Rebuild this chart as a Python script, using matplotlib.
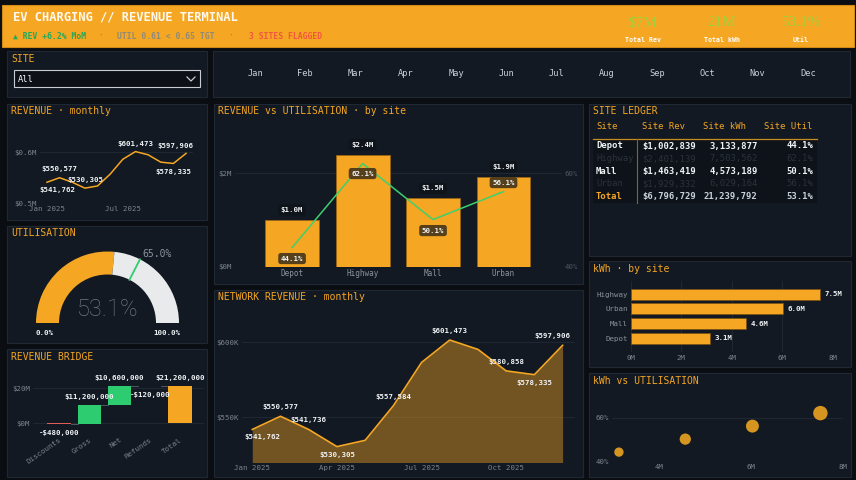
import matplotlib
matplotlib.use('Agg')
import matplotlib.pyplot as plt
from matplotlib.patches import Rectangle, Wedge
from matplotlib.lines import Line2D
import numpy as np

# ---------------- data ----------------
months = ['Jan', 'Feb', 'Mar', 'Apr', 'May', 'Jun', 'Jul', 'Aug', 'Sep', 'Oct', 'Nov', 'Dec']
month_ticks = ['Jan 2025', 'Apr 2025', 'Jul 2025', 'Oct 2025']
monthly_rev = [541762, 550577, 541736, 530305, 534500, 557584, 586500, 601473, 595200, 580858, 578335, 597906]

sites = ['Depot', 'Highway', 'Mall', 'Urban']
site_rev = [1002839, 2401139, 1463419, 1929332]
site_kwh = [3133877, 7503562, 4573189, 6029164]
site_util = [44.1, 62.1, 50.1, 56.1]
highlighted_sites = ['Depot', 'Mall']

total_rev = 6796729
total_kwh = 21239792
total_util = 53.1
util_target = 65.0

bridge_steps = ['Discounts', 'Gross', 'Net', 'Refunds', 'Total']
bridge_values = [-480000, 11200000, 10600000, -120000, 21200000]

kpi_values = ['$7M', '21M', '53.1%']
kpi_labels = ['Total Rev', 'Total kWh', 'Util']

# ---------------- style ----------------
W, H = 856, 480
MONO = ['DejaVu Sans Mono', 'DejaVu Sans']
plt.rcParams['font.family'] = MONO
BG = '#0a0d12'
PANEL = '#121922'
EDGE = '#1f2833'
ORANGE = '#f5a623'
GREEN = '#2ecc71'
RED = '#e05d56'
TICK = '#7d8590'
GRID = '#222b36'
WHITE = '#f0f3f6'

fig = plt.figure(figsize=(W / 100, H / 100), dpi=100)
fig.patch.set_facecolor(BG)


def rect(x0, y0, x1, y1):
    return [x0 / W, 1 - y1 / H, (x1 - x0) / W, (y1 - y0) / H]


def ftext(x, y, s, **kw):
    kw.setdefault('va', 'center')
    return fig.text(x / W, 1 - y / H, s, **kw)


def panel(x0, y0, x1, y1, title=None):
    fig.patches.append(Rectangle((x0 / W, 1 - y1 / H), (x1 - x0) / W, (y1 - y0) / H,
                                 transform=fig.transFigure, facecolor=PANEL,
                                 edgecolor=EDGE, lw=0.8, zorder=-5))
    if title:
        ftext(x0 + 4, y0 + 7.5, title, color=ORANGE, fontsize=7, ha='left')


def style_ax(ax, fs=5.3):
    ax.set_facecolor('none')
    for s in ax.spines.values():
        s.set_visible(False)
    ax.tick_params(colors=TICK, labelsize=fs, length=0, pad=2)


# ---------------- header ----------------
fig.patches.append(Rectangle((2 / W, 1 - 47 / H), 852 / W, 42 / H, transform=fig.transFigure,
                             facecolor=ORANGE, edgecolor='#d18a16', lw=0.8, zorder=-5))
ftext(13, 17, 'EV CHARGING // REVENUE TERMINAL', color='#fffaf0', fontsize=8.7,
      fontweight='bold', ha='left')
ftext(13, 36.5, '\u25b2 REV +6.2% MoM', color='#22a85a', fontsize=5.8, fontweight='bold', ha='left')
ftext(101, 36.5, '\u00b7', color='#a08050', fontsize=5.8, fontweight='bold', ha='center')
ftext(117, 36.5, 'UTIL 0.61 < 0.65 TGT', color='#8f8a78', fontsize=5.8, fontweight='bold', ha='left')
ftext(231, 36.5, '\u00b7', color='#a08050', fontsize=5.8, fontweight='bold', ha='center')
ftext(249, 36.5, '3 SITES FLAGGED', color='#f2553e', fontsize=5.8, fontweight='bold', ha='left')
for i, (v, l) in enumerate(zip(kpi_values, kpi_labels)):
    cx = 643 + i * 79
    ftext(cx, 23, v, color='#a6cf3c', fontsize=11, family=['Liberation Serif', 'DejaVu Serif'],
          ha='center')
    ftext(cx, 40, l, color='#ffffff', fontsize=4.8, fontweight='bold', ha='center')

# ---------------- SITE selector ----------------
panel(7, 51, 207, 97, 'SITE')
fig.patches.append(Rectangle((14 / W, 1 - 87 / H), 186 / W, 17 / H, transform=fig.transFigure,
                             facecolor='#0d1117', edgecolor='#c9cdd3', lw=0.8, zorder=-4))
ftext(18, 79, 'All', color=WHITE, fontsize=6.3, ha='left')
fig.lines.append(Line2D([187 / W, 191 / W, 195 / W], [1 - 77 / H, 1 - 81 / H, 1 - 77 / H],
                        transform=fig.transFigure, color='#c9cdd3', lw=0.9))

# ---------------- month strip ----------------
panel(213, 51, 850, 97)
axm = fig.add_axes(rect(213, 51, 850, 97))
axm.set_xlim(-0.835, 11.835)
axm.set_ylim(0, 1)
axm.axis('off')
for i, m in enumerate(months):
    axm.text(i, 0.5, m, color='#c9d1d9', fontsize=6.2, ha='center', va='center')

# ---------------- REVENUE monthly (small) ----------------
panel(7, 104, 207, 220, 'REVENUE \u00b7 monthly')
axr = fig.add_axes(rect(40, 133, 193, 203.7))
style_ax(axr)
xm = np.arange(len(months))
axr.plot(xm, monthly_rev, color=ORANGE, lw=1.1)
axr.margins(x=0.05)
axr.set_ylim(500000, 637600)
axr.set_yticks([500000, 600000])
axr.set_yticklabels(['$0.5M', '$0.6M'])
axr.set_xticks([0, 6])
axr.set_xticklabels([month_ticks[0], month_ticks[2]])
axr.grid(axis='y', color=GRID, lw=0.6)
axr.set_axisbelow(True)
small_labels = {0: (10.8, -8), 1: (0, 8.5), 3: (0, 8.5), 7: (0, 7.5), 10: (0, -9), 11: (-10.6, 7.5)}
for i, (dx, dy) in small_labels.items():
    axr.annotate(f'${monthly_rev[i]:,.0f}', (i, monthly_rev[i]), xytext=(dx * 0.72, dy * 0.72),
                 textcoords='offset points', ha='center', va='center', color=WHITE,
                 fontsize=5.3, fontweight='bold')

# ---------------- UTILISATION gauge ----------------
panel(7, 226, 207, 343, 'UTILISATION')
axg = fig.add_axes(rect(7, 226, 207, 343))
axg.set_xlim(7, 207)
axg.set_ylim(H - 343, H - 226)
axg.axis('off')
cx, cy, R, wr = 107.5, H - 323, 71.5, 23
split = 180 * (1 - total_util / 100)
axg.add_patch(Wedge((cx, cy), R, split, 180, width=wr, facecolor=ORANGE, edgecolor='none'))
axg.add_patch(Wedge((cx, cy), R, 0, split, width=wr, facecolor='#e9eaeb', edgecolor='none'))
ang = np.radians(180 * (1 - util_target / 100))
axg.plot([cx + (R - wr) * np.cos(ang), cx + R * np.cos(ang)],
         [cy + (R - wr) * np.sin(ang), cy + R * np.sin(ang)], color=GREEN, lw=1.3)
axg.text(cx + R * np.cos(ang) + 2, cy + R * np.sin(ang) + 5, f'{util_target:.1f}%',
         color='#8b949e', fontsize=7, ha='left', va='center')
axg.text(cx, H - 310, f'{total_util:.1f}%', color='#6e7681', fontsize=17,
         family=['Roboto', 'DejaVu Sans'], fontweight='light', ha='center', va='center')
axg.text(cx - (R - wr / 2) - 2.5, H - 333, '0.0%', color=WHITE, fontsize=5.3, fontweight='bold',
         ha='center', va='center')
axg.text(cx + (R - wr / 2) - 1, H - 333, '100.0%', color=WHITE, fontsize=5.3, fontweight='bold',
         ha='center', va='center')

# ---------------- REVENUE BRIDGE ----------------
panel(7, 349, 207, 477, 'REVENUE BRIDGE')
axb = fig.add_axes(rect(33, 370.8, 204, 433.8))
style_ax(axb)
xb = np.arange(len(bridge_steps))
cum = 0
levels = []
for i, v in enumerate(bridge_values):
    if i == len(bridge_values) - 1:
        bottom, height, col = 0, v, ORANGE
        top_level = v
    else:
        bottom, height = cum, v
        col = GREEN if v >= 0 else RED
        cum += v
        top_level = cum
    axb.bar(i, height, bottom=bottom, width=0.78, color=col, edgecolor='none', zorder=3)
    levels.append(top_level)
    lbl = f'${v:,.0f}' if v >= 0 else f'-${-v:,.0f}'
    if v >= 0:
        axb.annotate(lbl, (i, bottom + height), xytext=(0, 8 * 0.72), textcoords='offset points',
                     ha='center', va='center', color=WHITE, fontsize=5.3, fontweight='bold', zorder=5)
    else:
        axb.annotate(lbl, (i, bottom + height), xytext=(0, -9 * 0.72), textcoords='offset points',
                     ha='center', va='center', color=WHITE, fontsize=5.3, fontweight='bold', zorder=5)
for i in range(len(bridge_values) - 1):
    axb.plot([i + 0.39, i + 1 - 0.39], [levels[i], levels[i]], color='#5a626c', lw=0.6, zorder=2)
axb.set_xlim(-0.87, 4.8)
axb.set_ylim(-6e6, 30e6)
axb.set_yticks([0, 20e6])
axb.set_yticklabels(['$0M', '$20M'])
axb.set_xticks(xb)
axb.set_xticklabels(bridge_steps, rotation=35, ha='right', rotation_mode='anchor')
axb.grid(axis='y', color=GRID, lw=0.6)
axb.set_axisbelow(True)

# ---------------- REVENUE vs UTILISATION ----------------
panel(214, 104, 583, 284, 'REVENUE vs UTILISATION \u00b7 by site')
ax = fig.add_axes(rect(235, 126.7, 562, 266.7))
style_ax(ax)
xs = np.arange(len(sites))
ax.bar(xs, site_rev, width=0.765, color=ORANGE, edgecolor='#9a6414', lw=0.6, zorder=2)
ax.set_xlim(-0.81, 3.83)
ax.set_ylim(0, 3e6)
ax.set_yticks([0, 2e6])
ax.set_yticklabels(['$0M', '$2M'])
ax.set_xticks(xs)
ax.set_xticklabels(sites)
ax.tick_params(axis='x', colors='#8b949e', labelsize=5.5)
ax.grid(axis='y', color=GRID, lw=0.6)
ax.set_axisbelow(True)
for i, v in enumerate(site_rev):
    ax.annotate(f'${v / 1e6:.1f}M', (i, v), xytext=(0, 10 * 0.72), textcoords='offset points',
                ha='center', va='center', color=WHITE, fontsize=5.3, fontweight='bold', zorder=6,
                bbox=dict(boxstyle='round,pad=0.35', fc='#0f141b', ec='none'))
ax2 = ax.twinx()
style_ax(ax2)
ax2.plot(xs, site_util, color='#3ecf6e', lw=1.1, zorder=4)
ax2.set_ylim(40, 70)
ax2.set_yticks([40, 60])
ax2.set_yticklabels(['40%', '60%'])
ax2.tick_params(axis='y', colors='#4d555e')
util_offsets = [-11, -10, -11, 9]
for i, u in enumerate(site_util):
    ax2.annotate(f'{u:.1f}%', (i, u), xytext=(0, util_offsets[i] * 0.72), textcoords='offset points',
                 ha='center', va='center', color=WHITE, fontsize=5.3, fontweight='bold', zorder=6,
                 bbox=dict(boxstyle='round,pad=0.35', fc='#56401c', ec='none'))

# ---------------- NETWORK REVENUE ----------------
panel(214, 290, 583, 477, 'NETWORK REVENUE \u00b7 monthly')
axn = fig.add_axes(rect(242, 322, 575, 462.5))
style_ax(axn)
ylo = min(monthly_rev) * 0.98
yhi = max(monthly_rev) * 1.02
axn.fill_between(xm, monthly_rev, ylo, color=ORANGE, alpha=0.42, lw=0, zorder=2)
axn.plot(xm, monthly_rev, color=ORANGE, lw=1.2, zorder=3)
axn.set_xlim(-0.365, 11.44)
axn.set_ylim(ylo, yhi)
axn.set_yticks([550000, 600000])
axn.set_yticklabels(['$550K', '$600K'])
axn.set_xticks([0, 3, 6, 9])
axn.set_xticklabels(month_ticks)
axn.grid(axis='y', color=GRID, lw=0.6)
axn.set_axisbelow(True)
net_labelled = [0, 1, 2, 3, 5, 7, 9, 10, 11]
n = len(monthly_rev)
for i in net_labelled:
    v = monthly_rev[i]
    left = monthly_rev[i - 1] if i > 0 else np.inf
    right = monthly_rev[i + 1] if i < n - 1 else np.inf
    is_min = v < left and v < right
    dy = -8 if is_min else 9
    dx = 10.5 if i == 0 else (-10.5 if i == n - 1 else 0)
    axn.annotate(f'${v:,.0f}', (i, v), xytext=(dx * 0.72, dy * 0.72), textcoords='offset points',
                 ha='center', va='center', color=WHITE, fontsize=5.3, fontweight='bold', zorder=5)

# ---------------- SITE LEDGER ----------------
panel(589, 104, 851, 256, 'SITE LEDGER')
axl = fig.add_axes(rect(589, 104, 851, 256))
axl.set_xlim(589, 851)
axl.set_ylim(256, 104)
axl.axis('off')
axl.add_patch(Rectangle((593, 139), 224, 64, facecolor='#0e131a', edgecolor='none'))
axl.plot([593, 817], [139.3, 139.3], color='#c98a22', lw=0.9)
axl.plot([637.3, 637.3], [139.3, 203], color='#8a6420', lw=0.8)
headers = ['Site', 'Site Rev', 'Site kWh', 'Site Util']
hx = [596.7, 641.7, 703.3, 764.3]
for x_, h in zip(hx, headers):
    axl.text(x_, 126.7, h, color=ORANGE, fontsize=6.4, ha='left', va='center')
col_right = [696, 757.7, 813.7]
rows = [(s, f'${r:,.0f}', f'{k:,.0f}', f'{u:.1f}%') for s, r, k, u in zip(sites, site_rev, site_kwh, site_util)]
rows.append(('Total', f'${total_rev:,.0f}', f'{total_kwh:,.0f}', f'{total_util:.1f}%'))
for j, row in enumerate(rows):
    y = 146 + j * 12.65
    if row[0] == 'Total':
        c0, cv, wt = ORANGE, '#c9d1d9', 'bold'
    elif row[0] in highlighted_sites:
        c0, cv, wt = WHITE, WHITE, 'bold'
    else:
        c0, cv, wt = '#2b323b', '#2b323b', 'normal'
    axl.text(596, y, row[0], color=c0, fontsize=6.4, fontweight=wt, ha='left', va='center')
    for x_, s in zip(col_right, row[1:]):
        axl.text(x_, y, s, color=cv, fontsize=6.4, fontweight=wt, ha='right', va='center')

# ---------------- kWh by site ----------------
panel(589, 261, 851, 367, 'kWh \u00b7 by site')
axk = fig.add_axes(rect(630.7, 281.3, 832.7, 352.3))
style_ax(axk)
order = np.argsort(site_kwh)
kv = [site_kwh[i] for i in order]
kl = [sites[i] for i in order]
yk = np.arange(len(kv))
axk.barh(yk, kv, height=0.75, color=ORANGE, edgecolor='#7a5212', lw=0.5, zorder=3)
axk.set_xlim(0, 8e6)
axk.set_ylim(-0.95, 3.88)
axk.set_yticks(yk)
axk.set_yticklabels(kl)
axk.tick_params(axis='y', colors='#8b949e')
axk.set_xticks([0, 2e6, 4e6, 6e6, 8e6])
axk.set_xticklabels(['0M', '2M', '4M', '6M', '8M'])
axk.grid(axis='x', color=GRID, lw=0.6)
axk.set_axisbelow(True)
for y_, v in zip(yk, kv):
    axk.annotate(f'{v / 1e6:.1f}M', (v, y_), xytext=(3, 0), textcoords='offset points',
                 ha='left', va='center', color=WHITE, fontsize=5.3, fontweight='bold')

# ---------------- kWh vs UTILISATION ----------------
panel(589, 373, 851, 477, 'kWh vs UTILISATION')
axs = fig.add_axes(rect(611.7, 396, 843.3, 461))
style_ax(axs)
axs.scatter(site_kwh, site_util, s=[r / 1e6 * 45 for r in site_rev], color='#e8a020',
            alpha=0.92, edgecolors='none', zorder=3)
axs.set_xlim(min(site_kwh) * 0.95, 8e6)
axs.set_ylim(40, 70)
axs.set_yticks([40, 60])
axs.set_yticklabels(['40%', '60%'])
axs.set_xticks([4e6, 6e6, 8e6])
axs.set_xticklabels(['4M', '6M', '8M'])
axs.grid(axis='y', color=GRID, lw=0.6)
axs.set_axisbelow(True)

fig.savefig('out.png', dpi=100, facecolor=BG)
